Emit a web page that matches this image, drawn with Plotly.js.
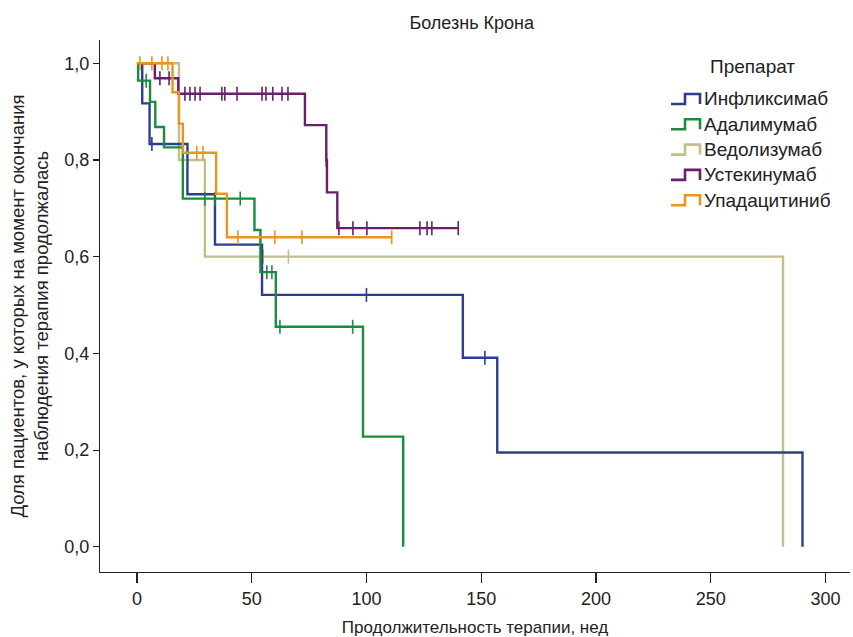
<!DOCTYPE html>
<html>
<head>
<meta charset="utf-8">
<script src="https://cdn.plot.ly/plotly-3.0.1.min.js"></script>
<style>html,body{margin:0;padding:0;background:#fff;}#chart{width:853px;height:637px;}</style>
</head>
<body>
<div id="chart"></div>
<script>
// ---- Data ----
const drugs = ['Инфликсимаб', 'Адалимумаб', 'Ведолизумаб', 'Устекинумаб', 'Упадацитиниб'];
const colors = ['#2b3f8c', '#1b8c3e', '#c3bf8b', '#6b1f6b', '#ea951e'];

// Infliximab
const inflTimes = [0, 2.3, 5.5, 22, 34, 54.5, 142, 157, 290];
const inflSurv  = [1, 0.917, 0.833, 0.729, 0.625, 0.521, 0.391, 0.195, 0];
const inflCens  = [6.5, 100, 151.6];
// Adalimumab
const adaTimes = [0, 0.5, 5.7, 8, 11.8, 20, 51.2, 53.8, 60.5, 98.5, 116];
const adaSurv  = [1, 0.964, 0.92, 0.868, 0.826, 0.72, 0.655, 0.568, 0.455, 0.228, 0];
const adaCens  = [4, 29.6, 34, 45, 56.6, 58.8, 62.3, 94];
// Vedolizumab
const vedoTimes = [0, 18.3, 29.6, 281.5];
const vedoSurv  = [1, 0.8, 0.6, 0];
const vedoCens  = [55, 66];
// Ustekinumab
const usteTimes = [0, 7.8, 18, 73.2, 82.5, 82.8, 87.3];
const usteSurv  = [1, 0.969, 0.937, 0.872, 0.80, 0.733, 0.659];
const usteCens  = [10, 14, 20.9, 23.1, 25.3, 27.5, 37, 38.3, 43.6, 54.5, 56.2, 59.2, 63.2, 65.8, 82.5, 88, 94.1, 100.2, 123.3, 126.4, 128.5, 140];
const usteLast  = 140;
// Upadacitinib
const upaTimes = [0, 15.5, 18.3, 20, 34.5, 39.2];
const upaSurv  = [1, 0.94, 0.875, 0.815, 0.73, 0.64];
const upaCens  = [1.3, 6.5, 10.9, 13.5, 26.1, 28.8, 44, 60.1, 71.9, 111];
const upaLast  = 111;

const xTicks = [0, 50, 100, 150, 200, 250, 300];
const yTicks = [0, 0.2, 0.4, 0.6, 0.8, 1.0];

const series = [
  {name: drugs[2], color: colors[2], t: vedoTimes, s: vedoSurv, c: vedoCens, last: null},
  {name: drugs[0], color: colors[0], t: inflTimes, s: inflSurv, c: inflCens, last: null},
  {name: drugs[1], color: colors[1], t: adaTimes, s: adaSurv, c: adaCens, last: null},
  {name: drugs[3], color: colors[3], t: usteTimes, s: usteSurv, c: usteCens, last: usteLast},
  {name: drugs[4], color: colors[4], t: upaTimes, s: upaSurv, c: upaCens, last: upaLast}
];

function survAt(t, times, surv) {
  let v = surv[0];
  for (let i = 0; i < times.length; i++) { if (times[i] <= t) v = surv[i]; }
  return v;
}

const traces = [];
series.forEach(sr => {
  const x = sr.t.slice(), y = sr.s.slice();
  if (sr.last !== null) { x.push(sr.last); y.push(sr.s[sr.s.length - 1]); }
  traces.push({
    type: 'scatter', mode: 'lines', x: x, y: y, name: sr.name,
    line: {shape: 'hv', color: sr.color, width: 2.4}, showlegend: false, hoverinfo: 'skip'
  });
  traces.push({
    type: 'scatter', mode: 'markers', x: sr.c, y: sr.c.map(t => survAt(t, sr.t, sr.s)),
    marker: {symbol: 'line-ns', size: 10, color: sr.color, line: {color: sr.color, width: 1.6}},
    showlegend: false, hoverinfo: 'skip'
  });
});

// ---- Custom legend (step glyphs) ----
const W = 853, H = 637, mL = 100, mR = 3, mT = 40, mB = 65;
const pw = W - mL - mR, ph = H - mT - mB;
const px2p = px => (px - mL) / pw;
const py2p = py => (H - mB - py) / ph;

const shapes = [], annotations = [];
annotations.push({xref: 'paper', yref: 'paper', x: px2p(752), y: py2p(66), text: 'Препарат',
  showarrow: false, xanchor: 'center', yanchor: 'middle', font: {size: 19, color: '#222'}});
drugs.forEach((d, i) => {
  const cy = 99 + i * 25.3;
  const x0 = 671, x1 = 685, x2 = 700, yb = cy + 5, yt = cy - 5;
  shapes.push({type: 'path', xref: 'paper', yref: 'paper',
    path: `M ${px2p(x0)},${py2p(yb)} L ${px2p(x1)},${py2p(yb)} L ${px2p(x1)},${py2p(yt)} L ${px2p(x2)},${py2p(yt)} L ${px2p(x2)},${py2p(yb)}`,
    line: {color: colors[i], width: 2.6}});
  annotations.push({xref: 'paper', yref: 'paper', x: px2p(702), y: py2p(cy), text: d,
    showarrow: false, xanchor: 'left', yanchor: 'middle', font: {size: 19, color: '#222'}});
});

const layout = {
  width: W, height: H,
  margin: {l: mL, r: mR, t: mT, b: mB},
  paper_bgcolor: '#fff', plot_bgcolor: '#fff',
  separators: ', ',
  font: {family: 'Arial, "Liberation Sans", sans-serif', size: 18, color: '#222'},
  title: {text: 'Болезнь Крона', x: 0.553, xanchor: 'center', y: 0.965, yanchor: 'middle', font: {size: 18, color: '#222'}},
  xaxis: {
    range: [-16.1, 310.7], tickvals: xTicks, ticktext: xTicks.map(String),
    showgrid: false, zeroline: false, showline: true, linecolor: '#222', linewidth: 1.2,
    ticks: 'outside', ticklen: 10, tickwidth: 1.2, tickcolor: '#222',
    tickfont: {size: 18, color: '#222'},
    title: {text: 'Продолжительность терапии, нед', font: {size: 17, color: '#222'}, standoff: 14}
  },
  yaxis: {
    range: [-0.052, 1.048], tickvals: yTicks, tickformat: '.1f',
    showgrid: false, zeroline: false, showline: true, linecolor: '#222', linewidth: 1.2,
    ticks: 'outside', ticklen: 6, tickwidth: 1.2, tickcolor: '#222',
    tickfont: {size: 18, color: '#222'},
    title: {text: 'Доля пациентов, у которых на момент окончания<br>наблюдения терапия продолжалась', font: {size: 18.5, color: '#222'}, standoff: 10}
  },
  shapes: shapes,
  annotations: annotations,
  showlegend: false
};

Plotly.newPlot('chart', traces, layout, {displayModeBar: false, staticPlot: true});
</script>
</body>
</html>
